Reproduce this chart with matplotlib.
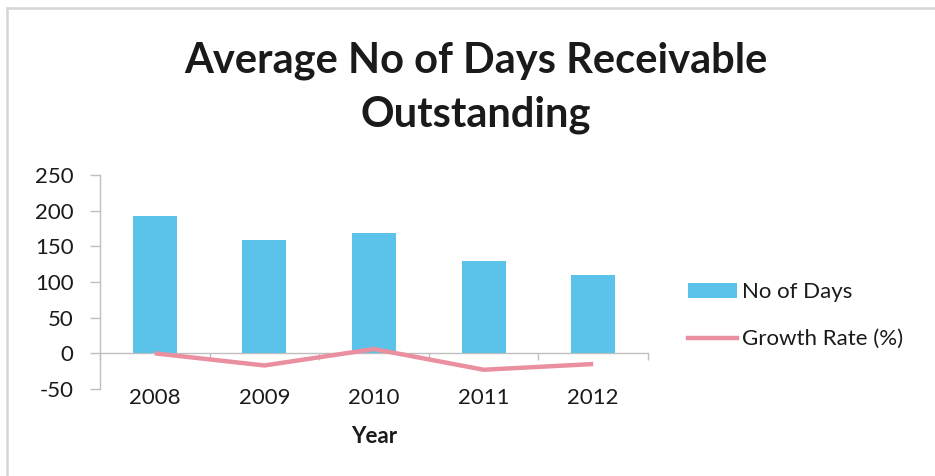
import matplotlib

matplotlib.use("Agg")

import matplotlib.pyplot as plt
from matplotlib.lines import Line2D
from matplotlib.patches import Patch

plt.rcParams["font.family"] = ["Lato", "DejaVu Sans"]
plt.rcParams["axes.unicode_minus"] = False

years = ["2008", "2009", "2010", "2011", "2012"]
no_of_days = [192, 159, 168, 130, 110]
growth_rate = [0, -17, 6, -23, -15]
y_ticks = [-50, 0, 50, 100, 150, 200, 250]

BAR_BLUE = "#5bc3ea"
LINE_PINK = "#e98fa0"
AXIS_GREY = "#bfbfbf"
TEXT = "#1a1a1a"

W, H = 935, 476
fig = plt.figure(figsize=(W / 100, H / 100), dpi=100)
fig.patch.set_facecolor("white")

# axes box in pixel terms: x 100..648, y 175..389 (top-down)
ax = fig.add_axes([100 / W, (H - 389) / H, 548 / W, 214 / H])
x = range(len(years))
ax.bar(x, no_of_days, width=0.4, color=BAR_BLUE, zorder=2)
ax.plot(x, growth_rate, color=LINE_PINK, linewidth=3.2,
        solid_capstyle="butt", zorder=3)

ax.set_xlim(-0.5, len(years) - 0.5)
ax.set_ylim(-50, 250)
ax.set_yticks(y_ticks)
ax.set_yticklabels([str(v) for v in y_ticks])
ax.set_xticks(list(x))
ax.set_xticklabels(years)

for side in ("top", "right", "bottom"):
    ax.spines[side].set_visible(False)
ax.spines["left"].set_color(AXIS_GREY)
ax.spines["left"].set_linewidth(1.0)
ax.tick_params(axis="y", direction="out", length=7, width=1.0,
               color=AXIS_GREY, labelsize=16, labelcolor=TEXT, pad=12)
ax.tick_params(axis="x", length=0, labelsize=16, labelcolor=TEXT, pad=-1)

# category axis sits on the zero line, labels stay at the bottom
zero = ax.secondary_xaxis(50 / 300)
zero.set_xticks([i - 0.5 for i in range(len(years) + 1)])
zero.set_xticklabels([])
zero.tick_params(direction="out", length=5, width=1.0, color=AXIS_GREY)
zero.spines["bottom"].set_color(AXIS_GREY)
zero.spines["bottom"].set_linewidth(1.0)

ax.set_xlabel("Year", fontsize=16, fontweight="bold", color=TEXT,
              labelpad=13)

fig.text(476 / W, 1 - 73 / H, "Average No of Days Receivable",
         ha="center", va="baseline", fontsize=30, fontweight="bold",
         color=TEXT)
fig.text(476 / W, 1 - 127 / H, "Outstanding",
         ha="center", va="baseline", fontsize=30, fontweight="bold",
         color=TEXT)

handles = [
    Patch(facecolor=BAR_BLUE, edgecolor="none", label="No of Days"),
    Line2D([], [], color=LINE_PINK, linewidth=3.2, label="Growth Rate (%)"),
]
fig.legend(handles=handles, loc="upper left",
           bbox_to_anchor=(688 / W, 1 - 282 / H), frameon=False,
           fontsize=16, handlelength=2.2, handleheight=0.65,
           handletextpad=0.25, labelspacing=1.22, borderaxespad=0,
           borderpad=0, labelcolor=TEXT)

# outer chart frame: only top and left edges show
fig.add_artist(Line2D([7 / W, 1], [1 - 8 / H, 1 - 8 / H], color="#d6d6d6",
                      linewidth=1.8, transform=fig.transFigure))
fig.add_artist(Line2D([7 / W, 7 / W], [0, 1 - 8 / H], color="#d6d6d6",
                      linewidth=1.8, transform=fig.transFigure))

fig.savefig("out.png", dpi=100, facecolor="white")
